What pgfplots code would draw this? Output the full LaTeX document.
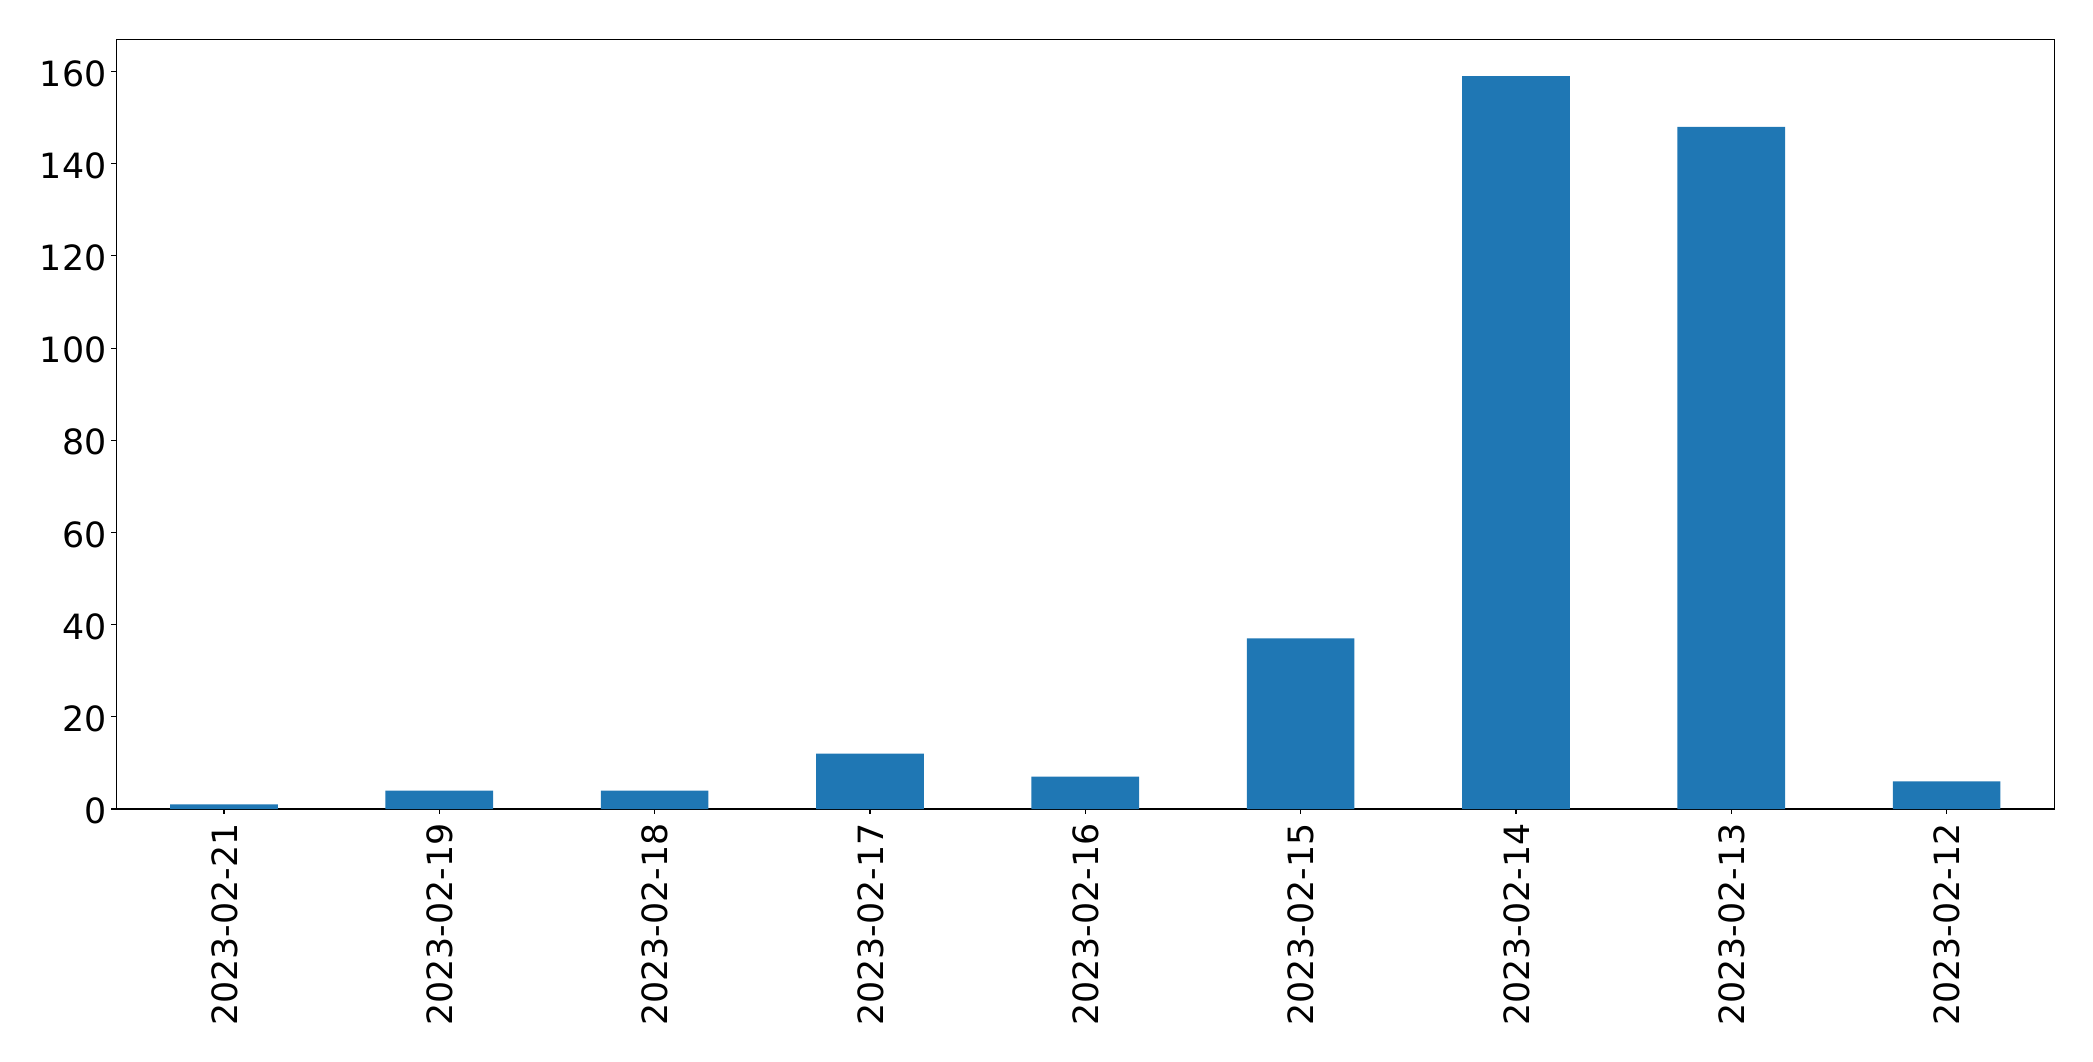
\documentclass[border=0pt]{standalone}
\usepackage{pgfplots}
\pgfplotsset{compat=1.18}
\usepackage{fontspec}
\setmainfont{DejaVu Sans}
\definecolor{barblue}{HTML}{1F77B4}
\begin{document}
\begin{tikzpicture}
\begin{axis}[
  at={(0,0)}, anchor=south west,
  width=969pt, height=384.75pt, scale only axis,
  xmin=-0.5, xmax=8.5, ymin=0, ymax=166.95,
  xtick={0,1,2,3,4,5,6,7,8},
  xticklabels={2023-02-21,2023-02-19,2023-02-18,2023-02-17,2023-02-16,2023-02-15,2023-02-14,2023-02-13,2023-02-12},
  ytick={0,20,40,60,80,100,120,140,160},
  tick align=outside,
  major tick length=2.43pt,
  axis line style={line width=0.555pt},
  every tick/.style={black, line width=0.555pt},
  tick pos=left,
  /pgf/number format/assume math mode=true,
  tick label style={font=\fontsize{17.4pt}{20pt}\selectfont},
  x tick label style={rotate=90, anchor=east, inner sep=0pt, xshift=-4.65pt, yshift=-0.3pt},
  y tick label style={anchor=east, inner sep=0pt, xshift=-2.35pt, yshift=-1pt},
  ybar, bar width=0.5,
]
\addplot[fill=barblue, draw=none] coordinates {
(0,1) (1,4) (2,4) (3,12) (4,7) (5,37) (6,159) (7,148) (8,6)
};
\end{axis}
\pgfresetboundingbox
\path[use as bounding box] (-58.15pt,-126pt) rectangle (988.35pt,404.5pt);
\end{tikzpicture}
\end{document}
